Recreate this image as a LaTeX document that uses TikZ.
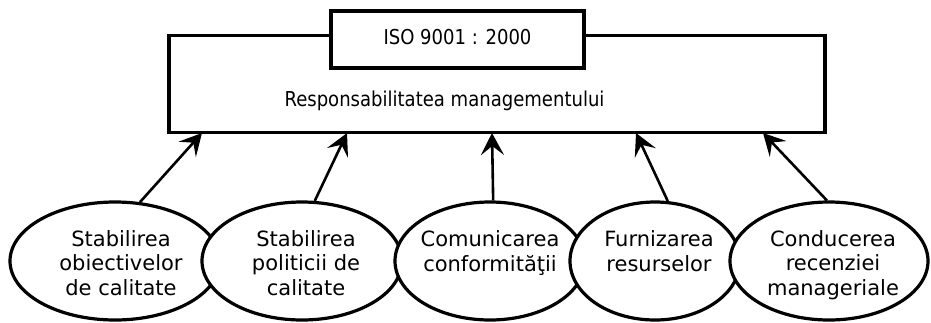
\documentclass[tikz,border=0pt]{standalone}
\usepackage{fontspec}
\setmainfont{DejaVu Sans}
\newfontfamily\narrowfont[FakeStretch=0.88]{DejaVu Sans}
\usetikzlibrary{shapes.geometric,arrows.meta}
\begin{document}
\begin{tikzpicture}[x=1pt,y=-1pt,
  framebox/.style={draw,line width=3.4pt,fill=white,inner sep=0pt,outer sep=0pt},
  oval/.style={draw,ellipse,line width=3.2pt,fill=white,inner sep=0pt,minimum height=118pt},
  headtext/.style={font=\narrowfont\fontsize{20.5}{24}\selectfont,inner sep=0pt,anchor=base},
  ovaltext/.style={font=\fontsize{21}{24.5}\selectfont,align=center,inner sep=0pt,anchor=north},
  link/.style={line width=2.6pt,-{Stealth[length=22pt,width=23pt,inset=9pt]}}
]
\useasboundingbox (0,0) rectangle (931,322);

% main frame and the standard box on its top edge
\node[framebox,minimum width=656pt,minimum height=97pt] (resp) at (497,84) {};
\node[framebox,minimum width=253pt,minimum height=57pt] (iso) at (457.5,39.5) {};
\node[headtext] (isotxt) at (457.5,44) {ISO 9001 : 2000};
\node[headtext] (resptxt) at (444.5,106) {Responsabilitatea managementului};

% arrow targets on the bottom edge of the frame
\coordinate (a1) at (202,133);
\coordinate (a2) at (347,133);
\coordinate (a3) at (492,133);
\coordinate (a4) at (636,133);
\coordinate (a5) at (763,133);

% the five activities
\node[oval,minimum width=210pt] (e1) at (115,261) {};
\node[oval,minimum width=200pt] (e2) at (302,261) {};
\node[oval,minimum width=190pt] (e3) at (490,261) {};
\node[oval,minimum width=170pt] (e4) at (655,261) {};
\node[oval,minimum width=198pt] (e5) at (829,261) {};

\node[ovaltext] (t1) at (121,230) {Stabilirea\\obiectivelor\\de calitate};
\node[ovaltext] (t2) at (306,230) {Stabilirea\\politicii de\\calitate};
\node[ovaltext] (t3) at (490,230.5) {Comunicarea\\conformităţii};
\node[ovaltext] (t4) at (659,230.5) {Furnizarea\\resurselor};
\node[ovaltext] (t5) at (833,230) {Conducerea\\recenziei\\manageriale};

% connectors
\draw[link] (e1.67) -- (a1);
\draw[link] (e2.78) -- (a2);
\draw[link] (e3.87) -- (a3);
\draw[link] (e4.78) -- (a4);
\draw[link] (e5.92) -- (a5);
\end{tikzpicture}
\end{document}
